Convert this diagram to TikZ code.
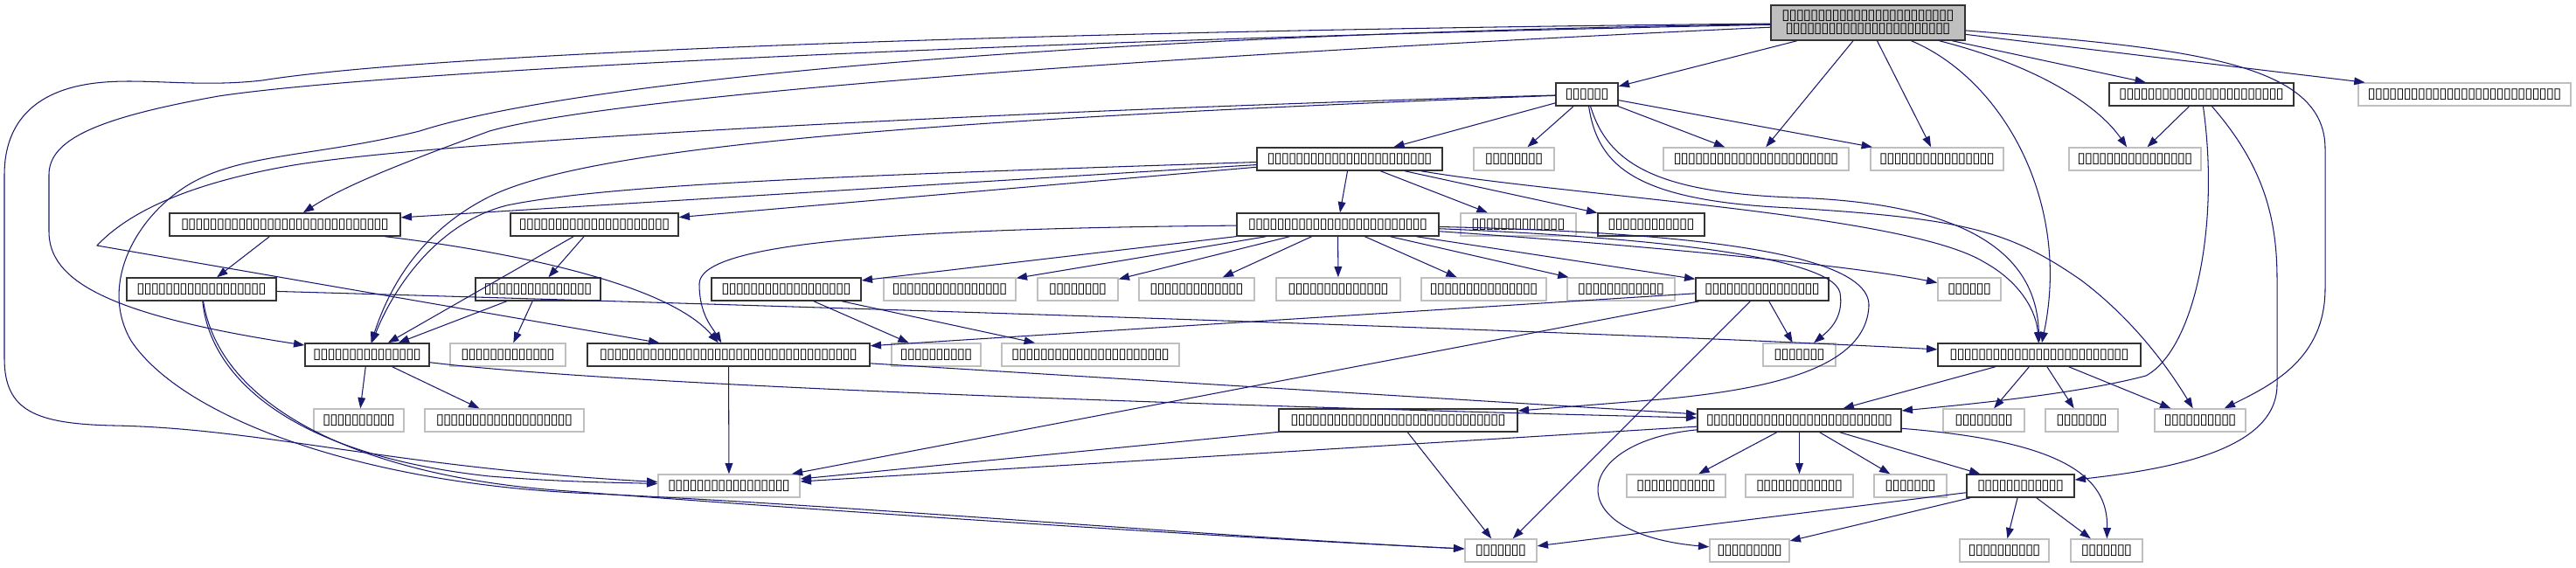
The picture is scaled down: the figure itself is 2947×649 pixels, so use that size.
\documentclass[tikz,border=0pt]{standalone}
\usepackage{fontspec}
\newfontfamily\tofufont{DejaVu Sans}
\usepackage{tikz}
\usetikzlibrary{arrows.meta}
\definecolor{azulesc}{HTML}{191970}
\newcommand{\tofu}[1]{\foreach \k in {1,...,#1}{\makebox[4.65pt]{▯}}}

\begin{document}
\begin{tikzpicture}[
        x=0.02cm, y=-0.02cm,
        every node/.style={font=\tofufont\fontsize{9.5}{8.5}\selectfont, inner sep=1pt, minimum height=0.52cm},
        cab/.style={draw=black!80, fill=white, line width=0.8pt, minimum width=#1*0.02cm},
        ext/.style={draw=black!25, fill=white, line width=0.8pt, minimum width=#1*0.02cm},
        raiz/.style={draw=black!80, fill=black!25, line width=0.8pt, align=center, minimum width=222*0.02cm, minimum height=0.8cm},
        dep/.style={draw=azulesc, line width=0.6pt, -{Triangle[length=7pt,width=5pt]}}
    ]
        \useasboundingbox (0,0) rectangle (2947,649);
        % Arquivo raiz
        \node[raiz] (raiz) at (2137,26) {\tofu{24}\\\tofu{23}};
        % Nivel 1
        \node[cab=71] (fA) at (1815.5,108) {\tofu{6}};
        \node[cab=211] (fB) at (2518.5,108) {\tofu{23}};
        \node[ext=243] (fC) at (2819.5,108) {\tofu{27}};
        % Nivel 2
        \node[cab=212] (fH) at (1544,182) {\tofu{23}};
        \node[ext=92] (fG) at (1732,182) {\tofu{8}};
        \node[ext=212] (fD) at (2009,182) {\tofu{23}};
        \node[ext=152] (fE) at (2216,182) {\tofu{16}};
        \node[ext=151] (fF) at (2442.5,182) {\tofu{16}};
        % Nivel 3
        \node[cab=264] (fI) at (326,257) {\tofu{29}};
        \node[cab=192] (fJ) at (680,257) {\tofu{21}};
        \node[cab=231] (fK) at (1530.5,257) {\tofu{25}};
        \node[ext=132] (fL) at (1737,257) {\tofu{13}};
        \node[cab=122] (fM) at (1889,257) {\tofu{12}};
        % Nivel 4
        \node[cab=171] (fN) at (230.5,331) {\tofu{18}};
        \node[cab=143] (fO) at (615.5,331) {\tofu{15}};
        \node[cab=171] (fP) at (899.5,331) {\tofu{18}};
        \node[ext=151] (fQ) at (1086.5,331) {\tofu{16}};
        \node[ext=92] (fR) at (1233,331) {\tofu{8}};
        \node[ext=132] (fS) at (1369,331) {\tofu{13}};
        \node[ext=142] (fT) at (1531,331) {\tofu{14}};
        \node[ext=143] (fU) at (1697.5,331) {\tofu{15}};
        \node[ext=123] (fV) at (1854.5,331) {\tofu{12}};
        \node[cab=152] (fW) at (2016,331) {\tofu{16}};
        \node[ext=72] (fX) at (2253,331) {\tofu{6}};
        % Nivel 5
        \node[cab=142] (fY) at (420,406) {\tofu{15}};
        \node[ext=132] (fZ) at (581,406) {\tofu{13}};
        \node[cab=323] (fAA) at (833.5,406) {\tofu{36}};
        \node[ext=102] (fAB) at (1071,406) {\tofu{10}};
        \node[ext=203] (fAC) at (1247.5,406) {\tofu{22}};
        \node[ext=83] (fAD) at (2058.5,406) {\tofu{7}};
        \node[cab=232] (fAE) at (2333,406) {\tofu{25}};
        % Nivel 6
        \node[ext=103] (fAF) at (410.5,481) {\tofu{10}};
        \node[ext=182] (fAG) at (577,481) {\tofu{19}};
        \node[cab=273] (fAH) at (1599.5,481) {\tofu{30}};
        \node[cab=233] (fAI) at (2058.5,481) {\tofu{26}};
        \node[ext=93] (fAJ) at (2269.5,481) {\tofu{8}};
        \node[ext=83] (fAK) at (2381.5,481) {\tofu{7}};
        \node[ext=104] (fAL) at (2517,481) {\tofu{10}};
        % Nivel 7
        \node[ext=162] (fAM) at (834,556) {\tofu{17}};
        \node[ext=113] (fAN) at (1917.5,556) {\tofu{11}};
        \node[ext=123] (fAP) at (2058.5,556) {\tofu{12}};
        \node[ext=83] (fAQ) at (2185.5,556) {\tofu{7}};
        \node[cab=123] (fAR) at (2311.5,556) {\tofu{12}};
        % Nivel 8
        \node[ext=82] (fAS) at (1717,630) {\tofu{7}};
        \node[ext=91] (fAT) at (2001.5,630) {\tofu{9}};
        \node[ext=102] (fAU) at (2293,630) {\tofu{10}};
        \node[ext=82] (fAV) at (2410,630) {\tofu{7}};
        \coordinate (knee) at (111,281);

        % Dependencias da raiz
        \draw[dep] (raiz) -- (fA);
        \draw[dep] (raiz) -- (fD);
        \draw[dep] (raiz) -- (fE);
        \draw[dep] (raiz) -- (fB);
        \draw[dep] (raiz) -- (fC);
        \draw[dep] (raiz) .. controls (2330,75) and (2400,120) .. (fF);
        \draw[dep] (raiz) .. controls (2290,90) and (2370,230) .. (fAE);
        \draw[dep] (raiz) .. controls (2500,55) and (2660,70) .. (2660,170) -- (2660,330) .. controls (2660,410) and (2600,440) .. (fAL);
        \draw[dep] (raiz) .. controls (1300,65) and (700,110) .. (560,150) .. controls (450,190) and (390,215) .. (fI);
        \draw[dep] (raiz) .. controls (1200,45) and (450,80) .. (250,110) .. controls (110,135) and (56,160) .. (56,200) -- (56,265) .. controls (56,320) and (120,360) .. (fY);
        \draw[dep] (raiz) .. controls (1200,35) and (500,60) .. (300,92) .. controls (230,100) and (170,90) .. (120,94) .. controls (40,100) and (5,140) .. (5,200) -- (5,410) .. controls (5,470) and (40,485) .. (130,487) .. controls (300,490) and (450,535) .. (fAM);
        \draw[dep] (raiz) .. controls (1200,40) and (650,95) .. (480,150) .. controls (360,180) and (270,175) .. (210,215) .. controls (150,255) and (115,330) .. (150,390) .. controls (210,480) and (420,555) .. (680,565) .. controls (1000,580) and (1400,615) .. (fAS);

        % fA
        \draw[dep] (fA) -- (fH);
        \draw[dep] (fA) -- (fG);
        \draw[dep] (fA) -- (fD);
        \draw[dep] (fA) -- (fE);
        \draw[dep] (fA) .. controls (1100,135) and (680,165) .. (560,225) .. controls (480,265) and (445,330) .. (fY);
        \draw[dep] (fA) .. controls (1200,125) and (500,160) .. (330,190) .. controls (200,213) and (140,250) .. (knee) -- (fAA);
        \draw[dep] (fA) .. controls (1840,190) and (1900,220) .. (2050,226) .. controls (2250,232) and (2330,290) .. (fAE);
        \draw[dep] (fA) .. controls (1828,190) and (1870,230) .. (2050,238) .. controls (2250,250) and (2300,265) .. (2380,320) .. controls (2440,365) and (2480,420) .. (fAL);

        % fB
        \draw[dep] (fB) -- (fF);
        \draw[dep] (fB) .. controls (2540,260) and (2510,400) .. (2455,430) .. controls (2380,450) and (2260,462) .. (fAI);
        \draw[dep] (fB) .. controls (2590,190) and (2605,250) .. (2605,320) -- (2605,440) .. controls (2605,510) and (2500,535) .. (fAR);

        % fH
        \draw[dep] (fH) -- (fK);
        \draw[dep] (fH) -- (fL);
        \draw[dep] (fH) -- (fM);
        \draw[dep] (fH) -- (fI);
        \draw[dep] (fH) -- (fJ);
        \draw[dep] (fH) .. controls (1000,200) and (700,210) .. (580,235) .. controls (500,255) and (450,330) .. (fY);
        \draw[dep] (fH) .. controls (1800,225) and (2180,245) .. (2270,300) .. controls (2315,325) and (2330,360) .. (fAE);

        % fI, fJ, fO
        \draw[dep] (fI) -- (fN);
        \draw[dep] (fI) .. controls (560,285) and (760,320) .. (fAA);
        \draw[dep] (fJ) -- (fY);
        \draw[dep] (fJ) -- (fO);
        \draw[dep] (fO) -- (fY);
        \draw[dep] (fO) -- (fZ);

        % fK
        \draw[dep] (fK) -- (fP);
        \foreach \t in {fQ,fR,fS,fT,fU,fV,fW} \draw[dep] (fK) -- (\t);
        \draw[dep] (fK) .. controls (1000,262) and (800,280) .. (800,325) .. controls (800,360) and (815,375) .. (fAA);
        \draw[dep] (fK) .. controls (1800,275) and (2100,300) .. (fX);
        \draw[dep] (fK) .. controls (1850,270) and (2095,290) .. (2105,335) .. controls (2110,365) and (2090,380) .. (fAD);
        \draw[dep] (fK) .. controls (1900,265) and (2140,285) .. (2138,350) .. controls (2135,420) and (2030,445) .. (1900,457) -- (fAH);

        % fN
        \draw[dep] (fN) .. controls (900,350) and (1800,378) .. (fAE);
        \draw[dep] (fN) .. controls (240,430) and (330,520) .. (560,545) .. controls (650,552) and (700,552) .. (fAM);
        \draw[dep] (fN) .. controls (250,460) and (400,545) .. (650,562) .. controls (950,585) and (1400,615) .. (fAS);

        % fP, fW, fY
        \draw[dep] (fP) -- (fAB);
        \draw[dep] (fP) -- (fAC);
        \draw[dep] (fW) -- (fAA);
        \draw[dep] (fW) -- (fAM);
        \draw[dep] (fW) -- (fAS);
        \draw[dep] (fW) -- (fAD);
        \draw[dep] (fY) -- (fAF);
        \draw[dep] (fY) -- (fAG);
        \draw[dep] (fY) .. controls (700,440) and (1300,462) .. (fAI);

        % fAA, fAE, fAH
        \draw[dep] (fAA) -- (fAM);
        \draw[dep] (fAA) -- (fAI);
        \foreach \t in {fAI,fAJ,fAK,fAL} \draw[dep] (fAE) -- (\t);
        \draw[dep] (fAH) -- (fAM);
        \draw[dep] (fAH) -- (fAS);

        % fAI, fAR
        \foreach \t in {fAM,fAN,fAP,fAQ,fAR} \draw[dep] (fAI) -- (\t);
        \draw[dep] (fAI) .. controls (1800,505) and (1780,610) .. (fAT);
        \draw[dep] (fAI) .. controls (2360,505) and (2412,545) .. (fAV);
        \foreach \t in {fAS,fAT,fAU,fAV} \draw[dep] (fAR) -- (\t);
    \end{tikzpicture}
\end{document}
